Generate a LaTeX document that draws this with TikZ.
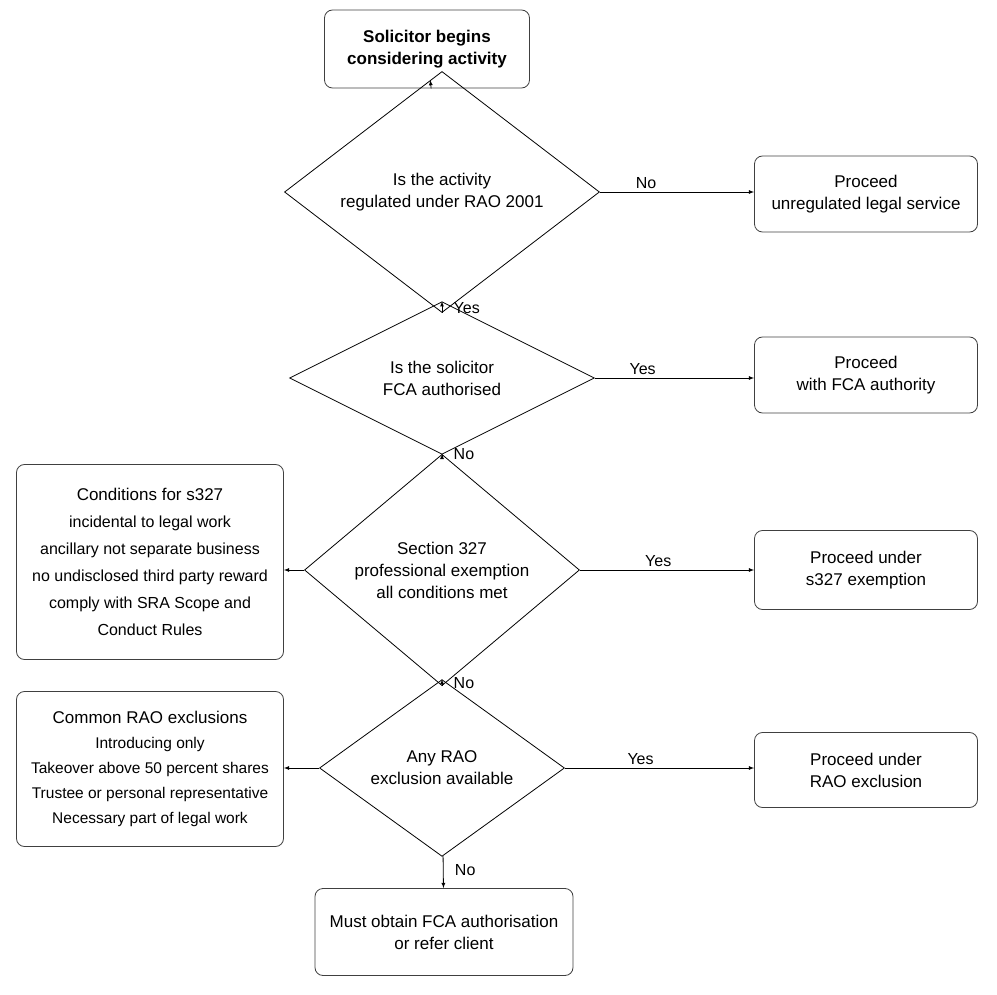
\documentclass[tikz,border=0pt]{standalone}
\usepackage{fontspec}
\setmainfont{Liberation Sans}
\usetikzlibrary{shapes.geometric,arrows}
\tikzset{>=latex}
\begin{document}
\begin{tikzpicture}[x=1pt,y=-1pt,font=\fontsize{17}{22}\selectfont]
\tikzstyle{box}=[rectangle, rounded corners=8pt, draw=black!75, thick, align=center, inner sep=0pt]
\tikzstyle{dec}=[diamond, draw=black, thick, align=center, inner sep=0pt]
\tikzstyle{every edge}=[black, ->, thick, draw]
\tikzstyle{lbl}=[font=\fontsize{16}{20}\selectfont]
\useasboundingbox (0,0) rectangle (997,995);
\node[box, minimum width=205, minimum height=78, font=\bfseries\fontsize{17}{22}\selectfont] (start) at (427,49) {Solicitor begins\\considering activity};
\node[dec, minimum width=315, minimum height=145] (rao) at (442,192) {Is the activity\\regulated under RAO 2001};
\node[box, minimum width=223, minimum height=76] (unreg) at (866,194) {Proceed\\unregulated legal service};
\node[dec, minimum width=305, minimum height=147] (fca) at (442,378) {Is the solicitor\\FCA authorised};
\node[box, minimum width=223, minimum height=76] (auth) at (866,375) {Proceed\\with FCA authority};
\node[dec, minimum width=275, minimum height=168] (s327) at (442,570) {Section 327\\professional exemption\\all conditions met};
\node[box, minimum width=223, minimum height=79] (ex327) at (866,570) {Proceed under\\s327 exemption};
\node[box, minimum width=267, minimum height=195, font=\fontsize{16}{27}\selectfont] (cond) at (150,562) {{\fontsize{17}{22}\selectfont Conditions for s327}\\incidental to legal work\\ancillary not separate business\\no undisclosed third party reward\\comply with SRA Scope and\\Conduct Rules};
\node[dec, minimum width=245, minimum height=162] (excl) at (442,768) {Any RAO\\exclusion available};
\node[box, minimum width=223, minimum height=75] (exrao) at (866,770) {Proceed under\\RAO exclusion};
\node[box, minimum width=267, minimum height=155, font=\fontsize{15.5}{25}\selectfont] (common) at (150,769) {{\fontsize{17}{22}\selectfont Common RAO exclusions}\\Introducing only\\Takeover above 50 percent shares\\Trustee or personal representative\\Necessary part of legal work};
\node[box, minimum width=258, minimum height=87] (refer) at (444,932) {Must obtain FCA authorisation\\or refer client};
\draw (start) edge (rao);
\draw (rao) edge node[lbl, right, pos=0.45, xshift=8pt] {Yes} (fca);
\draw (rao.east) edge node[lbl, above, pos=0.3] {No} (unreg.west |- rao.east);
\draw (fca.east) edge node[lbl, above, pos=0.3] {Yes} (auth.west |- fca.east);
\draw (fca) edge node[lbl, right, pos=0.45, xshift=8pt] {No} (s327);
\draw (s327.east) edge node[lbl, above, pos=0.45] {Yes} (ex327.west |- s327.east);
\draw (s327.west) edge (cond.east |- s327.west);
\draw (s327) edge node[lbl, right, pos=0.45, xshift=8pt] {No} (excl);
\draw (excl.east) edge node[lbl, above, pos=0.4] {Yes} (exrao.west |- excl.east);
\draw (excl.west) edge (common.east |- excl.west);
\draw (excl) edge node[lbl, right, pos=0.45, xshift=8pt] {No} (refer);
\end{tikzpicture}
\end{document}
